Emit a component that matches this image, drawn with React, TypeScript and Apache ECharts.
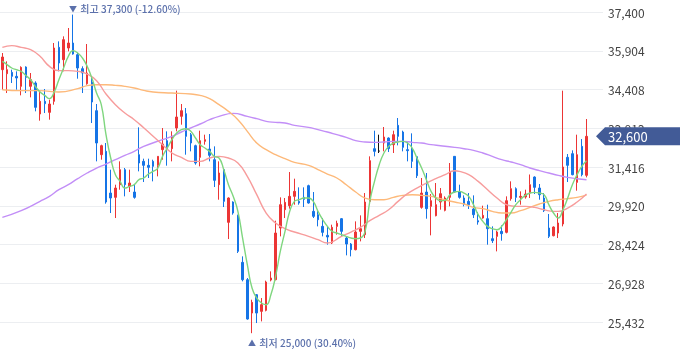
import React, { useEffect, useRef } from "react";
import * as echarts from "echarts";

// [open, close, low, high]
const candles: number[][] = [
  [35173, 35662, 34401, 35817], [35019, 35173, 34272, 35495], [35070, 34916, 34659, 35173], [34916, 34852, 34401, 35109],
  [34530, 35263, 34182, 35302], [35276, 34877, 34272, 35302], [34530, 34787, 34105, 35045], [34659, 33719, 33565, 34723],
  [33462, 33951, 33204, 34363], [33951, 33861, 33500, 34427], [33526, 33848, 33243, 34015], [33951, 36010, 33822, 36203],
  [36036, 35431, 35109, 36267], [35559, 36332, 35109, 36460], [36010, 36203, 35881, 36782], [36203, 35778, 35752, 37300],
  [35752, 35238, 34826, 35817], [35212, 35045, 34272, 35302], [34633, 35045, 34594, 36164], [34697, 33925, 33114, 34877],
  [33590, 32342, 31634, 33848], [31891, 32239, 31698, 32278], [32020, 30064, 30000, 32342], [30411, 30218, 29639, 31312],
  [30244, 30604, 29446, 30733], [30733, 31312, 30540, 31634], [31312, 30733, 30283, 31377], [30669, 30798, 30450, 31312],
  [30450, 30244, 30193, 30733], [31891, 31570, 31248, 32947], [31634, 31480, 30836, 31737], [31480, 31402, 30991, 31737],
  [31634, 31441, 30862, 31698], [31480, 31827, 31055, 31827], [32085, 32303, 31698, 32921], [32432, 32085, 31467, 32792],
  [32123, 32599, 31634, 32792], [32921, 33346, 32792, 34363], [33372, 33590, 33050, 33848], [33475, 32599, 31891, 33693],
  [32664, 32342, 32020, 32728], [32239, 31570, 31505, 32278], [31789, 32432, 31441, 32818], [32406, 32471, 32278, 32664],
  [32110, 31866, 31634, 32689], [31698, 30901, 30643, 32213], [30733, 31184, 30154, 31634], [31312, 30090, 29871, 31377],
  [29279, 30218, 28635, 30244], [30064, 29639, 29575, 30090], [29549, 28159, 28095, 29575], [27734, 27065, 27001, 27966],
  [27065, 25547, 25521, 27130], [25778, 26190, 25000, 26293], [26486, 25778, 25392, 26512], [25843, 26100, 25456, 26357],
  [25881, 26975, 25843, 27027], [27052, 27130, 27001, 27387], [27065, 28867, 27040, 29343], [29060, 29961, 28738, 30244],
  [29768, 30051, 29446, 30218], [29922, 30283, 29807, 31222], [30283, 30476, 29961, 30965], [30090, 30025, 29961, 30630],
  [30244, 30167, 29871, 30630], [30695, 30025, 30000, 30733], [29704, 29511, 29446, 30450], [29575, 29382, 29124, 29768],
  [29124, 28893, 28738, 29446], [28777, 28713, 28417, 29124], [28481, 29086, 28442, 29189], [29124, 29240, 28803, 29343],
  [29420, 28931, 28738, 29446], [28674, 28442, 28005, 28738], [28442, 28224, 27966, 28481], [28224, 28906, 28198, 29317],
  [28931, 29034, 28545, 29549], [28803, 30064, 28674, 30411], [30090, 31660, 30051, 31827], [32123, 32020, 31827, 32818],
  [32030, 32030, 31956, 32664], [32342, 32574, 32020, 32960], [32535, 32123, 31994, 32560], [32278, 32664, 31956, 32818],
  [33024, 32599, 32252, 33307], [32767, 32175, 32020, 32818], [32085, 32046, 31634, 32406], [32110, 31634, 31377, 32715],
  [31814, 31081, 30991, 31827], [29858, 30411, 29807, 30991], [30450, 29807, 29420, 31184], [29897, 30115, 28777, 30373],
  [29536, 29961, 29511, 30798], [30064, 30386, 29768, 30604], [29742, 30218, 29704, 30283], [30244, 31248, 29897, 31570],
  [31827, 30450, 30411, 31827], [30450, 30244, 30193, 30733], [30218, 29987, 29897, 30321], [30090, 29961, 29794, 30411],
  [29794, 29575, 29446, 30321], [29343, 29292, 29189, 29678], [29446, 29549, 29420, 29922], [29420, 29034, 28417, 29961],
  [28648, 28571, 28481, 29124], [28738, 28906, 28159, 28957], [28931, 28841, 28571, 29163], [28893, 30115, 28854, 30283],
  [30193, 30579, 30115, 30862], [30579, 30244, 30064, 30630], [30244, 30283, 29961, 30476], [30257, 30373, 30193, 30540],
  [30411, 30733, 30218, 31127], [31029, 30630, 30373, 31055], [30604, 30347, 30154, 30759], [30218, 29729, 29678, 30411],
  [29060, 28738, 28674, 29601], [28764, 29099, 28738, 29124], [28867, 29253, 28674, 29639], [29215, 31415, 29124, 34363],
  [31789, 31480, 30836, 31917], [31930, 31119, 31094, 32059], [30823, 31891, 30502, 32664], [32213, 31119, 31055, 32496],
  [31094, 32600, 31016, 33269],
];
const flatIndex = 80; // unchanged (black) candle

const ma5: number[] = [
  35495, 35370, 35238, 35170, 35109, 34950, 34787, 34530, 34311, 34180, 34054, 34311, 34787, 35238, 35688, 35907,
  35817, 35624, 35302, 34852, 34272, 33822, 32664, 31763, 31119, 30862, 30604, 30669, 30733, 30926, 30991, 31145,
  31248, 31377, 31827, 32149, 32471, 32728, 32857, 32895, 32792, 32535, 32278, 32149, 32020, 31827, 31763, 31312,
  30733, 30283, 29704, 28674, 27645, 26744, 26357, 26164, 26100, 26486, 27194, 28159, 28931, 29704, 30090, 30154,
  30218, 30218, 30090, 29704, 29382, 29124, 28931, 28867, 28803, 28738, 28674, 28648, 28674, 28931, 30090, 30862,
  31505, 31956, 32213, 32342, 32381, 32406, 32342, 32149, 31763, 31377, 30926, 30476, 30218, 30115, 30128, 30347,
  30450, 30476, 30411, 30283, 29961, 29575, 29317, 29124, 29034, 28996, 29124, 29382, 29678, 29961, 30154, 30321,
  30411, 30437, 30411, 30347, 29961, 29639, 29446, 29768, 30218, 30733, 31119, 31441, 31660,
];
const ma20: number[][] = [
  [0, 36036], [2, 36100], [4, 36036], [6, 35945], [8, 35688], [10, 35302], [12, 35135], [14, 35135], [16, 35109],
  [18, 35006], [20, 34749], [22, 34234], [24, 33822], [26, 33500], [28, 33243], [30, 32930], [32, 32600], [34, 32278],
  [36, 31956], [38, 31789], [40, 31634], [42, 31634], [44, 31763], [46, 31827], [48, 31763], [50, 31570], [52, 31055],
  [54, 30347], [56, 29639], [58, 29253], [60, 29034], [62, 28906], [65, 28738], [67, 28610], [69, 28481], [72, 28738],
  [74, 28906], [76, 29086], [78, 29343], [80, 29549], [82, 29768], [84, 30090], [86, 30386], [88, 30604], [90, 30798],
  [92, 30965], [94, 31119], [96, 31274], [97, 31248], [99, 31119], [101, 30862], [103, 30540], [105, 30218],
  [107, 29961], [109, 29897], [111, 29897], [113, 29858], [115, 29768], [117, 29704], [118, 29704], [120, 29832],
  [122, 30064], [124, 30373],
];
const ma60: number[][] = [
  [0, 34401], [4, 34363], [8, 34363], [12, 34311], [16, 34440], [18, 34556], [20, 34594], [22, 34594], [24, 34569],
  [26, 34530], [28, 34466], [30, 34375], [32, 34311], [36, 34272], [40, 34234], [42, 34182], [44, 34054], [46, 33822],
  [48, 33565], [50, 33243], [52, 32792], [54, 32342], [56, 32085], [58, 31891], [60, 31737], [62, 31595], [65, 31480],
  [67, 31312], [69, 31145], [71, 30991], [73, 30733], [75, 30450], [77, 30218], [79, 30154], [81, 30154], [83, 30244],
  [85, 30321], [87, 30347], [89, 30321], [91, 30283], [93, 30193], [96, 30064], [98, 29987], [100, 29858],
  [102, 29807], [104, 29704], [106, 29639], [108, 29639], [110, 29729], [112, 29858], [114, 29987], [116, 30090],
  [118, 30154], [120, 30193], [122, 30244], [124, 30330],
];
const ma120: number[][] = [
  [0, 29472], [4, 29729], [8, 30090], [10, 30283], [12, 30540], [14, 30733], [16, 30965], [18, 31184], [20, 31377],
  [22, 31531], [24, 31698], [26, 31866], [28, 32020], [30, 32213], [34, 32471], [36, 32599], [38, 32767], [40, 32921],
  [42, 33076], [44, 33243], [46, 33372], [49, 33487], [52, 33372], [54, 33281], [56, 33178], [58, 33140], [60, 33114],
  [62, 33024], [65, 32947], [67, 32857], [69, 32767], [71, 32664], [73, 32561], [75, 32432], [77, 32381], [79, 32368],
  [81, 32381], [83, 32406], [85, 32406], [87, 32368], [89, 32342], [91, 32278], [93, 32239], [96, 32175], [98, 32123],
  [100, 32059], [102, 31956], [104, 31827], [106, 31698], [108, 31608], [110, 31505], [112, 31377], [114, 31274],
  [116, 31184], [118, 31094], [120, 31016], [122, 30965], [124, 30926],
];
const yTicks = [25432, 26928, 28424, 29920, 31416, 32912, 34408, 35904, 37400];
const slotCount = 128;
const categories = Array.from({ length: slotCount }, (_, i) => String(i));
const highInfo = { index: 15, value: 37300, arrow: "▼", text: "최고 37,300 (-12.60%)" };
const lowInfo = { index: 53, value: 25000, arrow: "▲", text: "최저 25,000 (30.40%)" };
const lastPrice = 32600;

const UP = "#ec3535";
const DOWN = "#1574e6";
const FONT = "'Noto Sans CJK KR', 'Noto Sans', sans-serif";
const LABEL_COLOR = "#5b70ab";

export default function App() {
  const ref = useRef<HTMLDivElement>(null);
  useEffect(() => {
    if (!ref.current) return;
    const chart = echarts.init(ref.current, null, { renderer: "svg" });
    const candleData = candles.map((c, i) =>
      i === flatIndex
        ? { value: c, itemStyle: { color: "#111", color0: "#111", borderColor: "#111", borderColor0: "#111" } }
        : c
    );
    const lineS = (name: string, data: any, color: string) => ({
      name,
      type: "line",
      data,
      smooth: true,
      symbol: "none",
      silent: true,
      lineStyle: { color, width: 1.4 },
      z: 3,
    });
    chart.setOption({
      animation: false,
      grid: { left: 0, right: 77, top: 12, bottom: 36 },
      xAxis: { type: "category", data: categories, show: false },
      yAxis: {
        type: "value",
        position: "right",
        min: yTicks[0],
        max: yTicks[yTicks.length - 1],
        interval: yTicks[1] - yTicks[0],
        axisLine: { show: false },
        axisTick: { show: false },
        splitLine: { lineStyle: { color: "#eceef1", width: 1 } },
        axisLabel: {
          color: "#444",
          fontSize: 12,
          margin: 5,
          fontFamily: FONT,
          formatter: (v: number) => v.toLocaleString("en-US"),
        },
      },
      series: [
        {
          type: "candlestick",
          data: candleData,
          barWidth: 2,
          clip: false,
          silent: true,
          itemStyle: { color: UP, color0: DOWN, borderColor: UP, borderColor0: DOWN, borderWidth: 1 },
        },
        lineS("MA120", ma120, "#c28ef7"),
        lineS("MA60", ma60, "#fdb97a"),
        lineS("MA20", ma20, "#f79c9c"),
        lineS("MA5", ma5, "#7fd67f"),
      ],
    });
    const py = chart.convertToPixel({ yAxisIndex: 0 }, lastPrice) as number;
    const hp = chart.convertToPixel({ seriesIndex: 0 }, [highInfo.index, highInfo.value]) as number[];
    const lp = chart.convertToPixel({ seriesIndex: 0 }, [lowInfo.index, lowInfo.value]) as number[];
    const extreme = (p: number[], dy: number, info: any) => ({
      type: "text",
      z: 50,
      x: p[0] - 4,
      y: p[1] + dy,
      style: {
        text: `{a|${info.arrow}} {b|${info.text}}`,
        verticalAlign: "middle",
        rich: {
          a: { fontSize: 8, fill: LABEL_COLOR, fontFamily: FONT, verticalAlign: "middle" },
          b: { fontSize: 10, fill: LABEL_COLOR, fontFamily: FONT, fontWeight: 500, verticalAlign: "middle" },
        },
      },
    });
    chart.setOption({
      graphic: [
        extreme(hp, -6, highInfo),
        extreme(lp, 9, lowInfo),
        {
          type: "polygon",
          z: 100,
          shape: { points: [[596, py], [605, py - 9], [680, py - 9], [680, py + 9], [605, py + 9]] },
          style: { fill: "#425b97" },
        },
        {
          type: "text",
          z: 101,
          x: 608,
          y: py,
          style: { text: lastPrice.toLocaleString("en-US"), fill: "#fff", font: `13px ${FONT}`, verticalAlign: "middle" },
        },
      ],
    });
    return () => chart.dispose();
  }, []);
  return <div ref={ref} style={{ position: "fixed", left: 0, top: 0, width: 680, height: 358 }} />;
}
